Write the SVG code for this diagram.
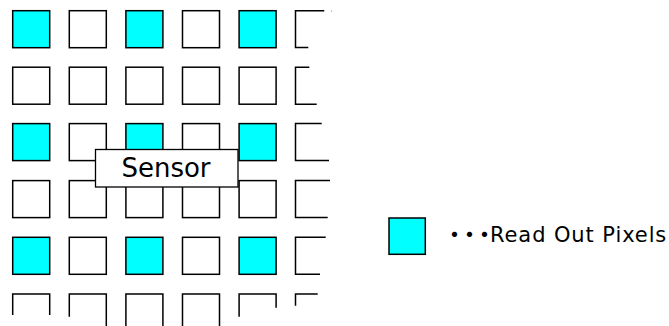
<svg xmlns="http://www.w3.org/2000/svg" width="669" height="326" viewBox="0 0 669 326">
<style>
.px{fill:#fff;stroke:#000;stroke-width:1.5}
.on{fill:#00ffff}
.open{fill:none;stroke:#000;stroke-width:1.5}
.lbl{font-family:"DejaVu Sans","Noto Sans CJK JP",sans-serif;fill:#000}
</style>
<rect width="669" height="326" fill="#fff"/>
<g id="grid">
  <g id="row1">
    <rect class="px on" x="12.7" y="10.7" width="37" height="37"/>
    <rect class="px" x="69.3" y="10.7" width="37" height="37"/>
    <rect class="px on" x="125.9" y="10.7" width="37" height="37"/>
    <rect class="px" x="182.5" y="10.7" width="37" height="37"/>
    <rect class="px on" x="239.1" y="10.7" width="37" height="37"/>
    <path class="open" d="M324.3 10.7 H295.5 V47.5 H308.3"/>
    <path d="M331 10 l0.8 2" stroke="#bbb" stroke-width="1"/>
  </g>
  <g id="row2">
    <rect class="px" x="12.7" y="67.2" width="37" height="37"/>
    <rect class="px" x="69.3" y="67.2" width="37" height="37"/>
    <rect class="px" x="125.9" y="67.2" width="37" height="37"/>
    <rect class="px" x="182.5" y="67.2" width="37" height="37"/>
    <rect class="px" x="239.1" y="67.2" width="37" height="37"/>
    <path class="open" d="M309.3 67.2 H295.5 V104.2 H316.7"/>
  </g>
  <g id="row3">
    <rect class="px on" x="12.7" y="123.6" width="37" height="37"/>
    <rect class="px" x="69.3" y="123.6" width="37" height="37"/>
    <rect class="px on" x="125.9" y="123.6" width="37" height="37"/>
    <rect class="px" x="182.5" y="123.6" width="37" height="37"/>
    <rect class="px on" x="239.1" y="123.6" width="37" height="37"/>
    <path class="open" d="M321.7 123.6 H295.5 V160.6 H329"/>
  </g>
  <g id="row4">
    <rect class="px" x="12.7" y="180.6" width="37" height="37"/>
    <rect class="px" x="69.3" y="180.6" width="37" height="37"/>
    <rect class="px" x="125.9" y="180.6" width="37" height="37"/>
    <rect class="px" x="182.5" y="180.6" width="37" height="37"/>
    <rect class="px" x="239.1" y="180.6" width="37" height="37"/>
    <path class="open" d="M330 180.6 H295.5 V217.6 H327.7"/>
  </g>
  <g id="row5">
    <rect class="px on" x="12.7" y="237.3" width="37" height="37"/>
    <rect class="px" x="69.3" y="237.3" width="37" height="37"/>
    <rect class="px on" x="125.9" y="237.3" width="37" height="37"/>
    <rect class="px" x="182.5" y="237.3" width="37" height="37"/>
    <rect class="px on" x="239.1" y="237.3" width="37" height="37"/>
    <path class="open" d="M325.7 237.3 H295.5 V274.3 H320"/>
  </g>
  <g id="row6">
    <path class="open" d="M12.7 315 V293.9 H49.7 V315"/>
    <path class="open" d="M69.3 316.7 V293.9 H106.3 V326"/>
    <path class="open" d="M125.9 326 V293.9 H162.9 V326"/>
    <path class="open" d="M182.5 326 V293.9 H219.5 V326"/>
    <path class="open" d="M239.1 316.7 V293.9 H276.1 V307.7"/>
    <path class="open" d="M317.7 293.9 H295.5 V305.7"/>
  </g>
</g>
<g id="sensor">
  <rect x="95.5" y="149.5" width="142.5" height="37.5" fill="#fff" stroke="#000" stroke-width="1.3"/>
  <text class="lbl" x="166" y="176.5" font-size="26" text-anchor="middle">Sensor</text>
</g>
<g id="legend">
  <rect class="px on" x="389" y="218" width="36.3" height="36.3"/>
  <text class="lbl" y="242.3" font-size="21"><tspan x="444 459 474" font-weight="bold">・・・</tspan><tspan x="490" letter-spacing="0.9">Read Out Pixels</tspan></text>
</g>
</svg>
